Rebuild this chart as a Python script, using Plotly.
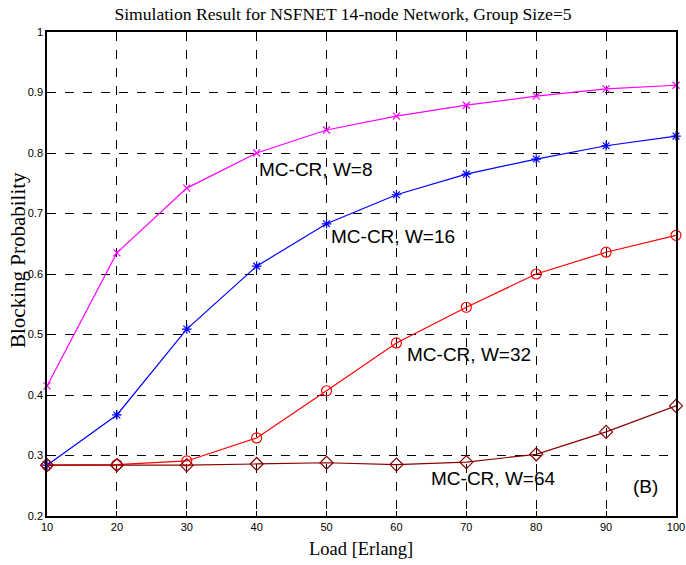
import plotly.graph_objects as go

load = [10, 20, 30, 40, 50, 60, 70, 80, 90, 100]
bp_w8 = [0.415, 0.635, 0.742, 0.800, 0.838, 0.861, 0.879, 0.894, 0.906, 0.912]
bp_w16 = [0.284, 0.367, 0.509, 0.613, 0.683, 0.731, 0.765, 0.790, 0.812, 0.828]
bp_w32 = [0.284, 0.285, 0.291, 0.329, 0.407, 0.486, 0.545, 0.600, 0.636, 0.664]
bp_w64 = [0.284, 0.284, 0.284, 0.286, 0.288, 0.285, 0.289, 0.302, 0.339, 0.382]

series = [
    ("MC-CR, W=8", bp_w8, "#ff00ff", "x-thin-open", 7),
    ("MC-CR, W=16", bp_w16, "#0000ff", "asterisk-open", 8),
    ("MC-CR, W=32", bp_w32, "#ff0000", "circle-open", 10),
    ("MC-CR, W=64", bp_w64, "#8b0000", "diamond-open", 10),
]

fig = go.Figure()
for name, ys, color, sym, size in series:
    fig.add_trace(go.Scatter(
        x=load, y=ys, mode="lines+markers", name=name,
        line=dict(color=color, width=1.2),
        marker=dict(symbol=sym, size=size, color=color,
                    line=dict(color=color, width=1.2)),
        cliponaxis=False,
    ))

# in-plot curve labels
labels = [
    ("MC-CR, W=8", 40.0, 0.773),
    ("MC-CR, W=16", 50.4, 0.662),
    ("MC-CR, W=32", 61.2, 0.467),
    ("MC-CR, W=64", 64.7, 0.262),
    ("(B)", 93.6, 0.248),
]
for txt, x, y in labels:
    fig.add_annotation(x=x, y=y, text=txt, showarrow=False, xanchor="left",
                       yanchor="middle",
                       font=dict(family="Liberation Sans, Arial", size=19, color="black"))

serif = "Liberation Serif, Times New Roman"

# axis titles placed in pixel offsets from the plot frame
fig.add_annotation(text="Load [Erlang]", xref="paper", yref="paper",
                   x=0.5, y=0, xshift=-1, yshift=-33, yanchor="middle",
                   showarrow=False, font=dict(family=serif, size=18.5, color="black"))
fig.add_annotation(text="Blocking Probability", xref="paper", yref="paper",
                   x=0, y=0.5, xshift=-29, yshift=14, xanchor="center", yanchor="middle",
                   textangle=-90, showarrow=False,
                   font=dict(family=serif, size=21, color="black"))

axis_common = dict(
    showgrid=True, gridcolor="black", griddash="dash", gridwidth=1,
    showline=True, linecolor="black", linewidth=1.5, mirror=True,
    ticks="inside", ticklen=5, tickcolor="black",
    tickfont=dict(family="Liberation Sans, Arial", size=11, color="black"),
    zeroline=False, automargin=False,
)

fig.update_layout(
    width=686, height=565,
    margin=dict(l=47, r=10, t=32, b=49),
    paper_bgcolor="white", plot_bgcolor="white",
    showlegend=False,
    title=dict(text="Simulation Result for NSFNET 14-node Network, Group Size=5",
               x=0.5, xanchor="center", y=0.975, yanchor="middle",
               font=dict(family=serif, size=17.6, color="black")),
    xaxis=dict(range=[10, 100], tickvals=load, **axis_common),
    yaxis=dict(range=[0.2, 1.0], tickvals=[0.2, 0.3, 0.4, 0.5, 0.6, 0.7, 0.8, 0.9, 1.0],
               ticktext=["0.2", "0.3", "0.4", "0.5", "0.6", "0.7", "0.8", "0.9", "1"],
               **axis_common),
)

fig.write_html("out.html")
